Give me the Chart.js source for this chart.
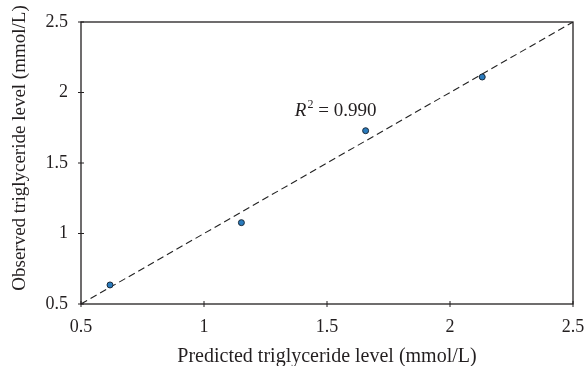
<!DOCTYPE html>
<html><head><meta charset="utf-8">
<script src="https://cdn.jsdelivr.net/npm/chart.js@4/dist/chart.umd.min.js"></script>
<style>html,body{margin:0;padding:0;background:#fff}#w{width:586px;height:366px}</style>
</head><body><div id="w"><canvas id="c"></canvas></div>
<script>
const predicted = [0.618, 1.152, 1.657, 2.131];
const observed = [0.635, 1.077, 1.729, 2.110];
const identityLine = [0.5, 2.5];
const tickValues = [0.5, 1, 1.5, 2, 2.5];
const xTitle = 'Predicted triglyceride level (mmol/L)';
const yTitle = 'Observed triglyceride level (mmol/L)';
const r2Label = { value: '0.990', x: 1.533, y: 1.878 };

const ink = '#231f20';
const serif = '"Liberation Serif", "DejaVu Serif", serif';

const boxPlugin = {
  id: 'box',
  afterDatasetsDraw(chart) {
    const {ctx, chartArea: a, scales} = chart;
    ctx.save();
    ctx.strokeStyle = ink; ctx.lineWidth = 1.3;
    ctx.strokeRect(a.left, a.top, a.right - a.left, a.bottom - a.top);
    ctx.lineWidth = 1;
    tickValues.forEach(v => {
      const px = scales.x.getPixelForValue(v);
      ctx.beginPath(); ctx.moveTo(px, a.bottom - 3); ctx.lineTo(px, a.bottom + 3); ctx.stroke();
      const py = scales.y.getPixelForValue(v);
      ctx.beginPath(); ctx.moveTo(a.left - 3, py); ctx.lineTo(a.left + 3, py); ctx.stroke();
    });
    // R² annotation
    const cx = scales.x.getPixelForValue(r2Label.x);
    const cy = scales.y.getPixelForValue(r2Label.y);
    ctx.fillStyle = ink;
    ctx.textBaseline = 'alphabetic';
    const f1 = 'italic 19px ' + serif, f2 = '12px ' + serif, f3 = '19px ' + serif;
    const rest = ' = ' + r2Label.value;
    ctx.font = f1; const w1 = ctx.measureText('R').width;
    ctx.font = f2; const w2 = ctx.measureText('2').width;
    ctx.font = f3; const w3 = ctx.measureText(rest).width;
    let x0 = cx - (w1 + w2 + w3) / 2;
    const base = cy + 6;
    ctx.font = f1; ctx.fillText('R', x0, base); x0 += w1 + 1;
    ctx.font = f2; ctx.fillText('2', x0, base - 8); x0 += w2;
    ctx.font = f3; ctx.fillText(rest, x0, base);
    // x axis title
    ctx.font = '20px ' + serif;
    ctx.textAlign = 'center';
    ctx.fillText(xTitle, (a.left + a.right) / 2, 362);
    // y axis title
    ctx.translate(20, 148);
    ctx.rotate(-Math.PI / 2);
    ctx.font = '19px ' + serif;
    ctx.textAlign = 'center';
    ctx.textBaseline = 'middle';
    ctx.fillText(yTitle, 0, 0);
    ctx.restore();
  }
};

new Chart(document.getElementById('c'), {
  type: 'scatter',
  data: {
    datasets: [
      {
        data: predicted.map((p, i) => ({x: p, y: observed[i]})),
        backgroundColor: '#2a7bbd', borderColor: '#1a2a3a', borderWidth: 1,
        pointRadius: 3, order: 0
      },
      {
        type: 'line',
        data: identityLine.map(v => ({x: v, y: v})),
        borderColor: '#222', borderWidth: 1.1, borderDash: [7, 4],
        pointRadius: 0, fill: false, order: 1
      }
    ]
  },
  options: {
    responsive: true, maintainAspectRatio: false, animation: false,
    layout: { padding: { top: 22, right: 13, left: 0, bottom: 0 } },
    plugins: { legend: { display: false }, tooltip: { enabled: false } },
    scales: {
      x: {
        type: 'linear', min: 0.5, max: 2.5,
        afterBuildTicks: s => { s.ticks = tickValues.map(v => ({value: v})); },
        afterFit: s => { s.height = 62; s.paddingLeft = 0; s.paddingRight = 0; },
        grid: { display: false, drawTicks: false },
        border: { display: false },
        ticks: { color: ink, font: { family: serif, size: 18 }, padding: 12,
                 callback: v => String(v) },
        title: { display: false }
      },
      y: {
        type: 'linear', min: 0.5, max: 2.5,
        afterBuildTicks: s => { s.ticks = tickValues.map(v => ({value: v})); },
        afterFit: s => { s.width = 81; s.paddingTop = 0; s.paddingBottom = 0; },
        grid: { display: false, drawTicks: false },
        border: { display: false },
        ticks: { color: ink, font: { family: serif, size: 18 }, padding: 13,
                 callback: v => String(v) },
        title: { display: false }
      }
    }
  },
  plugins: [boxPlugin]
});
</script>
</body></html>
